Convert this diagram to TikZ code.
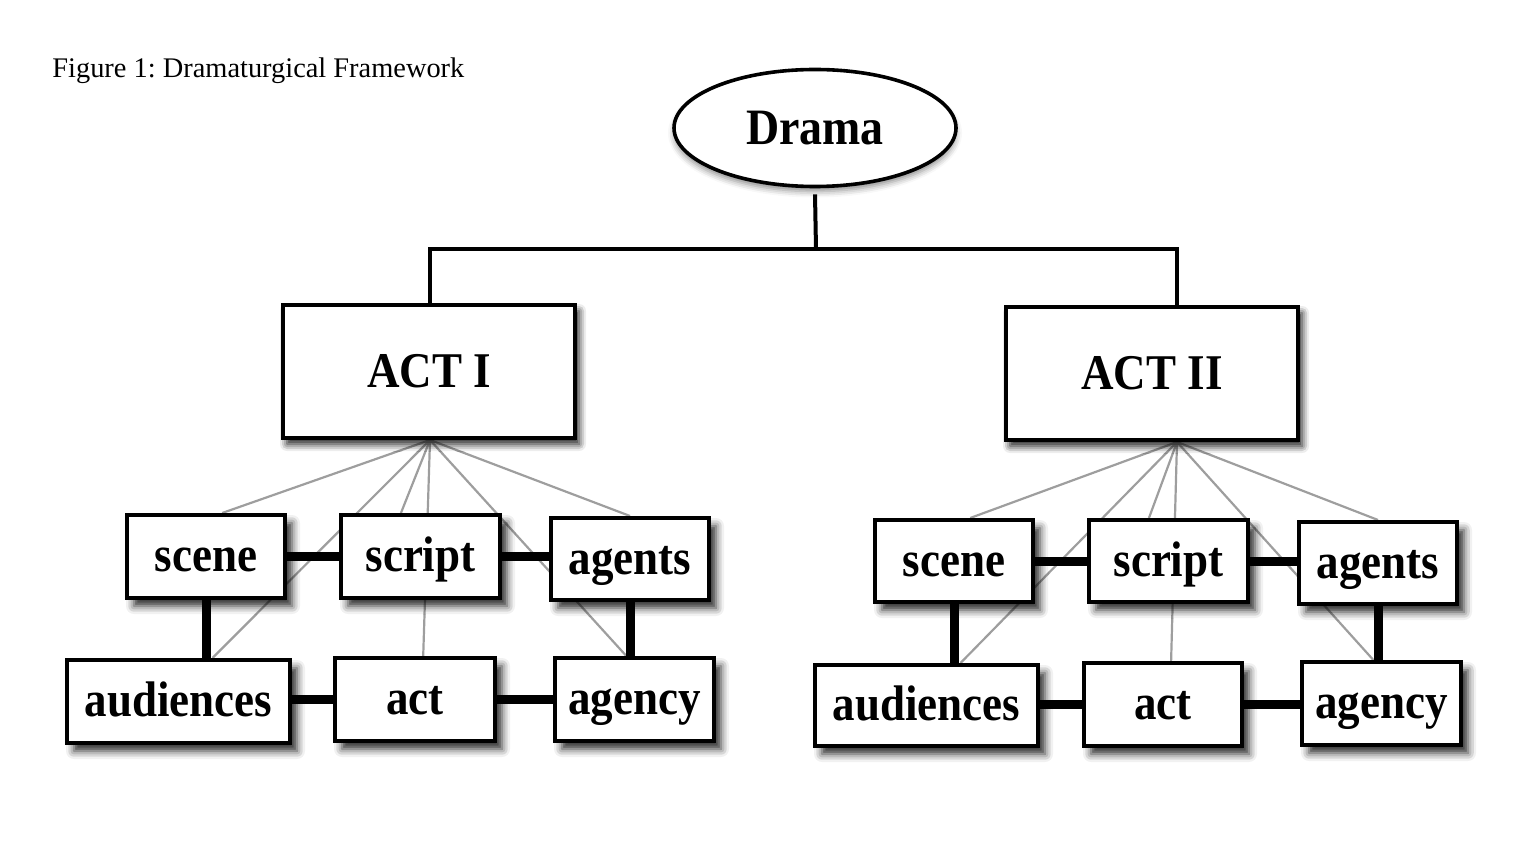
\documentclass[tikz,border=0pt]{standalone}
\usepackage{fontspec}
\setmainfont{Liberation Serif}
\newfontfamily\lblfont[FakeStretch=0.9]{Liberation Serif}
\usetikzlibrary{shapes.geometric,shadows.blur,calc}
\pgfdeclarelayer{bg}
\pgfsetlayers{bg,main}
\frenchspacing
\tikzset{
  box/.style={draw=black, line width=2pt, fill=white, inner sep=0pt,
    blur shadow={shadow xshift=3.5pt, shadow yshift=-4pt, shadow blur radius=4pt, shadow opacity=85}},
  small/.style={box, font=\lblfont\bfseries\fontsize{25}{27}\selectfont, text height=19.5pt, text depth=4.5pt},
  actbox/.style={box, font=\lblfont\bfseries\fontsize{25}{27}\selectfont,
    blur shadow={shadow xshift=2pt, shadow yshift=-3pt, shadow blur radius=3.5pt, shadow opacity=55}},
  oval/.style={ellipse, draw=black, line width=1.8pt, fill=white, inner sep=0pt,
    font=\lblfont\bfseries\fontsize{25.5}{27}\selectfont,
    blur shadow={shadow xshift=0pt, shadow yshift=-2.5pt, shadow blur radius=3pt, shadow opacity=45}},
  tree/.style={line width=2pt, black},
  thick link/.style={line width=4.5pt, black},
  thin link/.style={line width=1.1pt, black!38},
}
\begin{document}
\begin{tikzpicture}[x=0.5pt, y=-0.5pt]
\useasboundingbox (0,0) rectangle (1520,855);

\node[anchor=base west, font=\fontsize{14.2}{16}\selectfont, inner sep=0pt] (title) at (52,78) {Figure 1: Dramaturgical Framework};

\node[oval, minimum width=141pt, minimum height=58.5pt] (drama) at (815,128) {Drama};

% ACT I
\node[actbox, minimum width=146pt, minimum height=66.5pt] (actI) at (429,371.5) {ACT I};
\node[small, minimum width=79pt, minimum height=41.5pt] (scene1) at (206,556.5) {scene};
\node[small, minimum width=79.5pt, minimum height=41.5pt] (script1) at (420.5,556.5) {script};
\node[small, minimum width=79pt, minimum height=41pt] (agents1) at (630,559) {agents};
\node[small, minimum width=111.5pt, minimum height=41.5pt] (aud1) at (178.5,701.5) {audiences};
\node[small, minimum width=80pt, minimum height=41.5pt] (act1) at (415,699.5) {act};
\node[small, minimum width=79.5pt, minimum height=41.5pt] (agency1) at (634.5,699.5) {agency};

% ACT II
\node[actbox, minimum width=146pt, minimum height=66.5pt] (actII) at (1152,373.5) {ACT II};
\node[small, minimum width=79pt, minimum height=41pt] (scene2) at (954,561) {scene};
\node[small, minimum width=79.5pt, minimum height=41pt] (script2) at (1168.5,561) {script};
\node[small, minimum width=79pt, minimum height=41pt] (agents2) at (1378,563) {agents};
\node[small, minimum width=111.5pt, minimum height=40.5pt] (aud2) at (926.5,705.5) {audiences};
\node[small, minimum width=79pt, minimum height=41.5pt] (act2) at (1163,704.5) {act};
\node[small, minimum width=79.5pt, minimum height=41.5pt] (agency2) at (1381.5,703.5) {agency};

\path (actI.south) ++(1,0) coordinate (a1);
\path (actII.south) ++(25,0) coordinate (a2);
\path (drama.south) ++(1,61) coordinate (j);

% tree
\draw[tree] ([yshift=-3pt]drama.south) -- (j);
\draw[tree] (actI.north -| a1) |- (j) -| (actII.north -| a2);

\begin{pgfonlayer}{bg}
  % fan of thin lines
  \foreach \a/\s in {a1/1, a2/2}{
    \draw[thin link] (\a) -- ($(scene\s.north west)!0.6!(scene\s.north east)$);
    \draw[thin link] (\a) -- ($(aud\s.north west)!0.65!(aud\s.north east)$);
    \draw[thin link] (\a) -- ($(script\s.north west)!0.38!(script\s.north east)$);
    \draw[thin link] (\a) -- ($(act\s.north west)!0.55!(act\s.north east)$);
    \draw[thin link] (\a) -- ($(agency\s.north west)!0.45!(agency\s.north east)$);
    \draw[thin link] (\a) -- (agents\s.north);
  }
  % thick links
  \foreach \s in {1,2}{
    \draw[thick link] (scene\s.east) -- (scene\s.east -| script\s.west);
    \draw[thick link] (script\s.east) -- (script\s.east -| agents\s.west);
    \draw[thick link] (scene\s.south) -- (scene\s.south |- aud\s.north);
    \draw[thick link] (agents\s.south) -- (agents\s.south |- agency\s.north);
    \draw[thick link] (act\s.west -| aud\s.east) -- (act\s.west);
    \draw[thick link] (act\s.east) -- (act\s.east -| agency\s.west);
  }
\end{pgfonlayer}
\end{tikzpicture}
\end{document}
